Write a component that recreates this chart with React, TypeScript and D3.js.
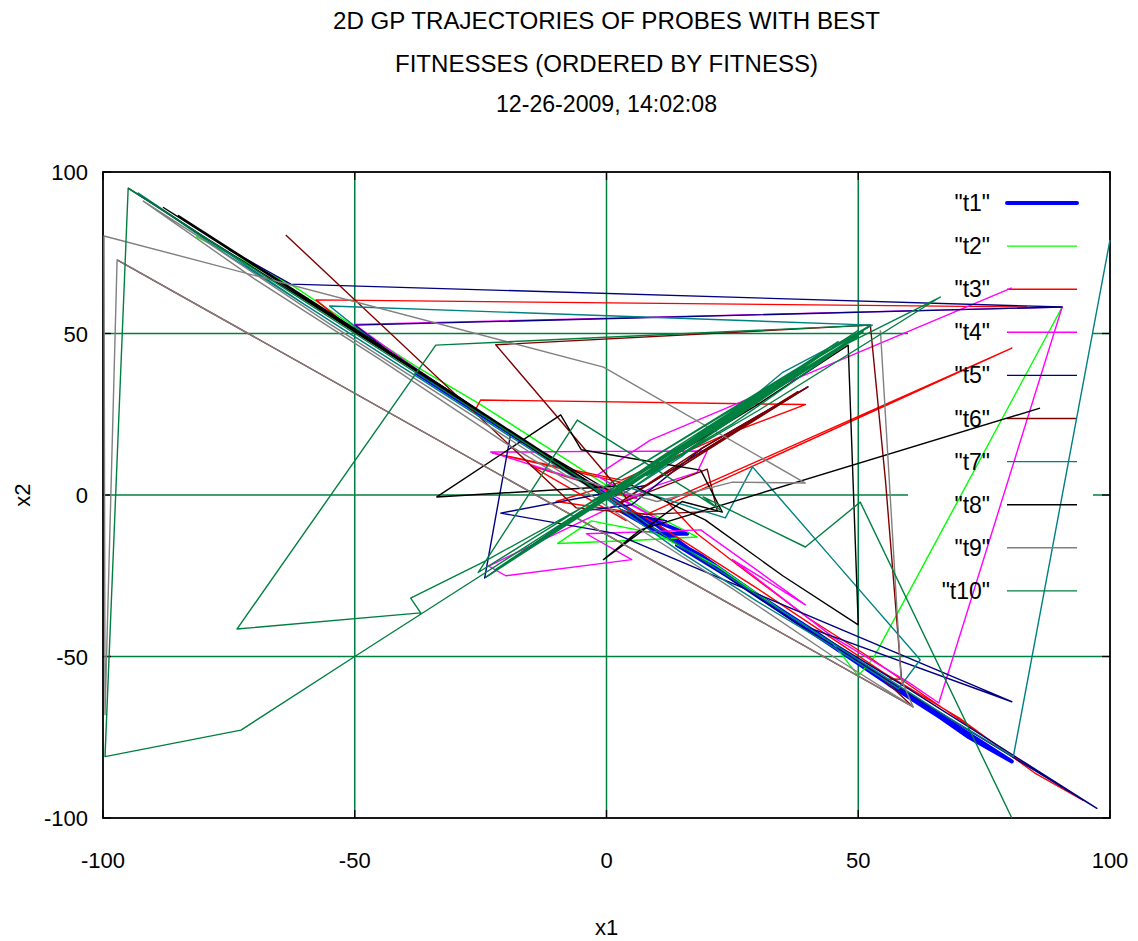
import React from "react";
import * as d3 from "d3";

type P = [number, number];

const X_TICKS = [-100, -50, 0, 50, 100];
const Y_TICKS = [-100, -50, 0, 50, 100];
const GRID_VALUES = [-50, 0, 50];
const TITLE_LINES = [
  "2D GP TRAJECTORIES OF PROBES WITH BEST",
  "FITNESSES (ORDERED BY FITNESS)",
  "12-26-2009, 14:02:08",
];
const SERIES_NAMES = ["t1", "t2", "t3", "t4", "t5", "t6", "t7", "t8", "t9", "t10"];
const SERIES_COLORS = [
  "#0000ff", "#00ff00", "#ff0000", "#ff00ff", "#000080",
  "#800000", "#008080", "#000000", "#808080", "#008040",
];

const t1: P[] = [
  [-38, 38], [-26, 26], [-14, 14], [-6, 6], [0, 0], [4, -4], [9, -9], [3, -5], [12, -13],
  [19, -19], [30, -31], [42, -43], [55, -57], [66, -68], [80.5, -82.5], [72, -75], [60, -62],
  [50, -52], [62, -64], [78, -80], [68, -70.5], [56, -58.5], [48, -50], [36, -37.5],
  [24, -25], [14, -15.5], [20, -21], [8, -7], [16, -12], [10, -12],
];
const t2: P[] = [
  [-81.5, 80], [-62, 64.5], [-50, 52], [-38, 40], [-25, 28], [-12, 15], [0, 3], [8, -5],
  [18, -13], [6, -14], [-9.7, -15], [-3, -8], [10, -12], [22, -22], [35, -36], [45, -46],
  [50, -56], [53, -50.5], [90.5, 58.2],
];
const t3: P[] = [
  [83.5, 58.2], [-57.7, 60.4], [-50, 50.5], [-40, 41], [-30, 31], [-26, 26.5], [-25, 29.4],
  [39.5, 28], [22.6, 18], [3, 4.6], [-22.6, 13], [2.8, 4], [-10, -2], [8, -6], [80.5, 45.5],
  [12, -2], [18, -12], [28, -24], [40, -38], [52, -50], [64, -63], [78, -78], [94.6, -94.5],
  [85, -86], [70, -69], [55, -55], [30, -29], [10, -9], [-4, 3], [6, -1], [-15, 9], [4, -8],
];
const t4: P[] = [
  [80.5, 64.1], [8.7, 17], [-2, 6], [6, -1], [-23, 13.3], [0, 13.5], [20, 13.6], [18, 7],
  [10, 3], [-23.4, -22], [-20, -25], [5, -20], [-4, -12], [18.7, -10.8], [39.5, -34],
  [25, -20], [45, -44], [60, -58], [66, -64.4], [90.5, 58.2], [-50, 52.8], [-40, 41.5],
  [-25, 25.5], [-12, 12], [0, 1], [12, -9], [4, -2],
];
const t5: P[] = [
  [-75, 76], [-62.7, 65.3], [90.5, 58.2], [-50, 52.6], [-42, 43], [-30, 31], [-19, 19.2],
  [-24.2, -25.7], [-5, -5], [5, -3], [19, 14.5], [40, 33.5], [8, 3], [-21, -5.6],
  [1.4, -11.8], [80.5, -64], [40, -41], [60, -60], [97.4, -97], [70, -71], [40, -42],
  [15, -16], [5, -6], [12, -8],
];
const t6: P[] = [
  [-63.7, 80.5], [-6, -4], [8, -6], [22, -5], [20, 8], [2, -3], [19, 14.5], [40, 33.5],
  [12, 6], [38, 32], [4, -1], [-22, 46.5], [52.4, 52.6], [55.4, 4.6], [58.6, -57],
  [55, -57], [60.9, -65.6], [-97.2, 72.8],
];
const t7: P[] = [
  [100, 79], [80.8, -81], [68, -69], [55, -56], [40, -41], [25, -26], [10, -11], [2, -2],
  [-20, 20], [-45, 46], [-55, 58.5], [52.8, 52.6], [35, 38], [15, 12], [5, 2], [23.6, -7.1],
  [29, 8.7], [45, -20], [62.3, -51], [58, -60], [45, -47], [30, -33], [15, -18], [-2, 1],
  [-40, 39], [-75, 74], [-93, 93.5], [-60, 59], [-20, 19], [2, -3],
];
const t8: P[] = [
  [-95, 95], [-80, 80], [-60, 60.5], [-40, 40.5], [-20, 20.5], [-5, 5], [-2, 2.5],
  [-30, 31], [-60, 61.5], [-88, 89], [-70, 71], [-45, 46], [-22, 22], [0, -1], [-35, 36],
  [-65, 66], [-85, 86.5], [-50, 51.5], [-15, 15.5], [2, 0], [10, 9], [30, 28],
  [48, 46.4], [50, -40.2], [35, -25], [19.6, -7.7], [5, 3], [-33.7, -0.6], [-9.1, 24.8],
  [-5, 14], [10, 10], [18.7, 7.7], [23, -5.3], [15, -2], [-0.6, -20], [6.7, -10.8],
  [86.1, 26.9],
];
const t9: P[] = [
  [54.4, 51], [58.5, -57], [60.9, -65.6], [45, -50], [25, -29], [8, -12], [-5, 2], [-20, 16],
  [-45, 42], [-70, 67], [-92, 91], [-80, 79], [-55, 53], [-30, 28], [-8, 6], [10, -2],
  [25, 4], [39.5, 3.7], [-0.6, 39.6], [-99.8, 80.2], [-99.6, -68], [-97.2, 72.8],
  [60.9, -65.6],
];
const t10: P[] = [
  [2, 2], [-24.4, -20.7], [-38.9, -31.9], [-36.9, -36.5], [-73.4, -41.5], [-33.9, 46.4],
  [52.4, 52.6], [30, 31], [10, 11], [0, 0], [-25, -25], [-50, -50], [-72.6, -72.8],
  [-99.6, -81], [-95, 95], [-75, 75], [-50, 50], [-25, 25], [-5, 5], [0, -1], [25, 22],
  [48, 47], [66.3, 61.3], [30, 26], [8, 6], [35, 36], [5, 4], [50, 51], [1, -1], [44, 45],
  [-2, 1], [52, 52], [3, 0], [40, 39.5], [-3, -2], [50, 49], [-24, -25.5], [46, 47.5],
  [-22, -23], [51, 50.5], [-25.5, -24], [-5.8, 23.2], [22.6, -4.6],
  [19.2, -0.6], [39.5, -16.1], [50.4, -2.2], [80.5, -100],
];

const SERIES_DATA: P[][] = [t1, t2, t3, t4, t5, t6, t7, t8, t9, t10];

export default function App() {
  const W = 1138;
  const H = 941;
  const left = 103, right = 1110, top = 172, bottom = 818;
  const x = d3.scaleLinear().domain([-100, 100]).range([left, right]);
  const y = d3.scaleLinear().domain([-100, 100]).range([bottom, top]);
  const line = d3.line<P>().x((d) => x(d[0])).y((d) => y(d[1]));

  const font = "'Liberation Sans', Arial, sans-serif";
  const gridColor = "#008040";
  const keyLeft = 908, keyRight = 1093, keyTop = 180, keyBottom = 610;
  const keyRow0 = 203, keyStep = 43.1;
  const titleWidths = [547, 423, 221];
  const titleYs = [29, 72, 112];

  return (
    <svg width={W} height={H} style={{ position: "absolute", left: 0, top: 0, background: "#fff" }}>
      <rect x={0} y={0} width={W} height={H} fill="#fff" />
      {TITLE_LINES.map((t, i) => (
        <text key={t} x={606.5} y={titleYs[i]} textAnchor="middle" fontFamily={font} fontSize={23}
          textLength={titleWidths[i]} lengthAdjust="spacingAndGlyphs" fill="#000">{t}</text>
      ))}
      {GRID_VALUES.map((v) => (
        <line key={"gx" + v} x1={x(v)} x2={x(v)} y1={top} y2={bottom} stroke={gridColor} strokeWidth={1.5} />
      ))}
      {GRID_VALUES.map((v) => {
        const yy = y(v);
        const inKey = yy > keyTop && yy < keyBottom;
        return inKey ? (
          <g key={"gy" + v}>
            <line x1={left} x2={keyLeft} y1={yy} y2={yy} stroke={gridColor} strokeWidth={1.5} />
            <line x1={keyRight} x2={right} y1={yy} y2={yy} stroke={gridColor} strokeWidth={1.5} />
          </g>
        ) : (
          <line key={"gy" + v} x1={left} x2={right} y1={yy} y2={yy} stroke={gridColor} strokeWidth={1.5} />
        );
      })}
      {X_TICKS.map((v) => (
        <g key={"tx" + v}>
          <line x1={x(v)} x2={x(v)} y1={bottom} y2={bottom - 8} stroke="#000" strokeWidth={1.3} />
          <line x1={x(v)} x2={x(v)} y1={top} y2={top + 8} stroke="#000" strokeWidth={1.3} />
          <text x={x(v)} y={868} textAnchor="middle" fontFamily={font} fontSize={22} fill="#000">{v}</text>
        </g>
      ))}
      {Y_TICKS.map((v) => (
        <g key={"ty" + v}>
          <line x1={left} x2={left + 8} y1={y(v)} y2={y(v)} stroke="#000" strokeWidth={1.3} />
          <line x1={right} x2={right - 8} y1={y(v)} y2={y(v)} stroke="#000" strokeWidth={1.3} />
          <text x={88} y={y(v) + 8} textAnchor="end" fontFamily={font} fontSize={22} fill="#000">{v}</text>
        </g>
      ))}
      <rect x={left} y={top} width={right - left} height={bottom - top} fill="none" stroke="#000" strokeWidth={1.8} />
      <text x={606.5} y={935} textAnchor="middle" fontFamily={font} fontSize={22} fill="#000">x1</text>
      <text transform={`translate(30,495) rotate(-90)`} textAnchor="middle" fontFamily={font} fontSize={22} fill="#000">x2</text>
      {SERIES_DATA.map((data, i) => {
        const ky = keyRow0 + i * keyStep;
        const w = i === 0 ? 4 : 1.4;
        return (
          <g key={SERIES_NAMES[i]}>
            <text x={990} y={ky + 8} textAnchor="end" fontFamily={font} fontSize={23} fill="#000">{`"${SERIES_NAMES[i]}"`}</text>
            <line x1={1007} x2={1077} y1={ky} y2={ky} stroke={SERIES_COLORS[i]} strokeWidth={w} strokeLinecap={i === 0 ? "round" : "butt"} />
            <path d={line(data) || ""} fill="none" stroke={SERIES_COLORS[i]} strokeWidth={w} strokeLinejoin="round" />
          </g>
        );
      })}
    </svg>
  );
}
